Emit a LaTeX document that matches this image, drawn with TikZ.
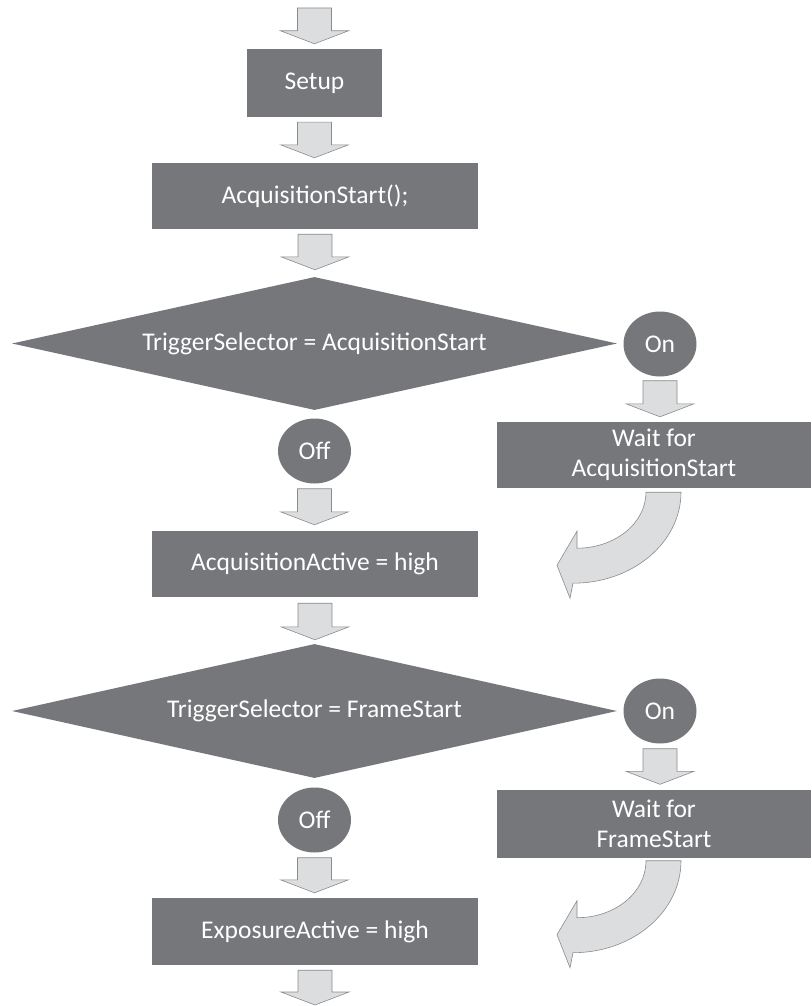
\documentclass[tikz,border=0pt]{standalone}
\usepackage{fontspec}
\setmainfont{Carlito}
\usetikzlibrary{positioning,shapes.geometric,calc}
\definecolor{boxgray}{RGB}{118,119,123}
\definecolor{arrowfill}{RGB}{220,221,223}
\definecolor{arrowline}{RGB}{138,139,141}
\tikzset{
    flowtext/.style={text=white, font=\fontsize{25.5}{30}\selectfont},
    fatarrow/.style={draw=arrowline, fill=arrowfill, line width=0.6pt, line join=miter}
}
% block arrow pointing down: #1 top of shaft, #2 tip
\newcommand{\fatdown}[2]{%
  \draw[fatarrow] let \p1=#1, \p2=#2 in
    (\x1-17pt,\y1) -- (\x1+17pt,\y1) -- (\x1+17pt,\y2+13pt) -- (\x1+34pt,\y2+13pt)
    -- (\x1,\y2) -- (\x1-34pt,\y2+13pt) -- (\x1-17pt,\y2+13pt) -- cycle;}

\begin{document}
\begin{tikzpicture}[x=1pt, y=-1pt,
    block/.style={rectangle, fill=boxgray, inner sep=0pt, minimum height=66pt, flowtext},
    decision/.style={diamond, aspect=4.5, fill=boxgray, inner sep=0pt, minimum width=605pt, minimum height=133pt, flowtext},
    bubble/.style={ellipse, fill=boxgray, inner sep=0pt, minimum width=73pt, minimum height=65pt, flowtext}]

\useasboundingbox (0,0) rectangle (811,1006);

\coordinate (entry) at (314.5,8);
\coordinate (exit) at (314.5,1005);

\node [block, minimum width=135pt, minimum height=68pt] (setup) at (314.5,83) {Setup};
\node [block, minimum width=326pt] (acqstart) at (315,196) {AcquisitionStart();};
\node [decision] (trigacq) at (314.5,343.5) {TriggerSelector = AcquisitionStart};
\node [bubble] (onacq) at (660,344) {On};
\node [bubble] (offacq) at (314.5,451) {Off};
\node [block, minimum width=314pt, align=center] (waitacq) at (654,455) {Wait for\\AcquisitionStart};
\node [block, minimum width=326pt] (acqactive) at (315,564) {AcquisitionActive = high};
\node [decision, minimum height=134pt] (trigframe) at (314.5,711) {TriggerSelector = FrameStart};
\node [bubble] (onframe) at (660,711) {On};
\node [bubble] (offframe) at (314.5,820) {Off};
\node [block, minimum width=314pt, minimum height=68pt, align=center] (waitframe) at (654,823.5) {Wait for\\FrameStart};
\node [block, minimum width=326pt, minimum height=67pt] (expactive) at (315,931.5) {ExposureActive = high};

\fatdown{(entry)}{($(setup.north)+(0,-5)$)}
\fatdown{($(setup.south)+(0,5)$)}{($(acqstart.north)+(0,-5)$)}
\fatdown{($(acqstart.south)+(0,5)$)}{($(trigacq.north)+(0,-7)$)}
\fatdown{($(onacq.south)+(0,4)$)}{($(waitacq.north)+(0,-5)$)}
\fatdown{($(offacq.south)+(0,5)$)}{($(acqactive.north)+(0,-6)$)}
\fatdown{($(acqactive.south)+(0,6)$)}{($(trigframe.north)+(0,-4)$)}
\fatdown{($(onframe.south)+(0,5)$)}{($(waitframe.north)+(0,-5)$)}
\fatdown{($(offframe.south)+(0,5)$)}{($(expactive.north)+(0,-5)$)}
\fatdown{($(expactive.south)+(0,5)$)}{(exit)}

% curved return arrows
\draw [fatarrow, shift={(waitacq.south)}] (-8,4) .. controls (-8,35) and (-39,60) .. (-77,60)
    -- (-77,43) -- (-97,77) -- (-84,110) -- (-81,95) .. controls (-21,95) and (27,54) .. (27,4) -- cycle;
\draw [fatarrow, shift={(waitframe.south)}] (-8,3) .. controls (-8,35) and (-39,60) .. (-77,60)
    -- (-77,43) -- (-97,77) -- (-84,110) -- (-81,95) .. controls (-21,95) and (27,54) .. (27,3) -- cycle;

\end{tikzpicture}
\end{document}
